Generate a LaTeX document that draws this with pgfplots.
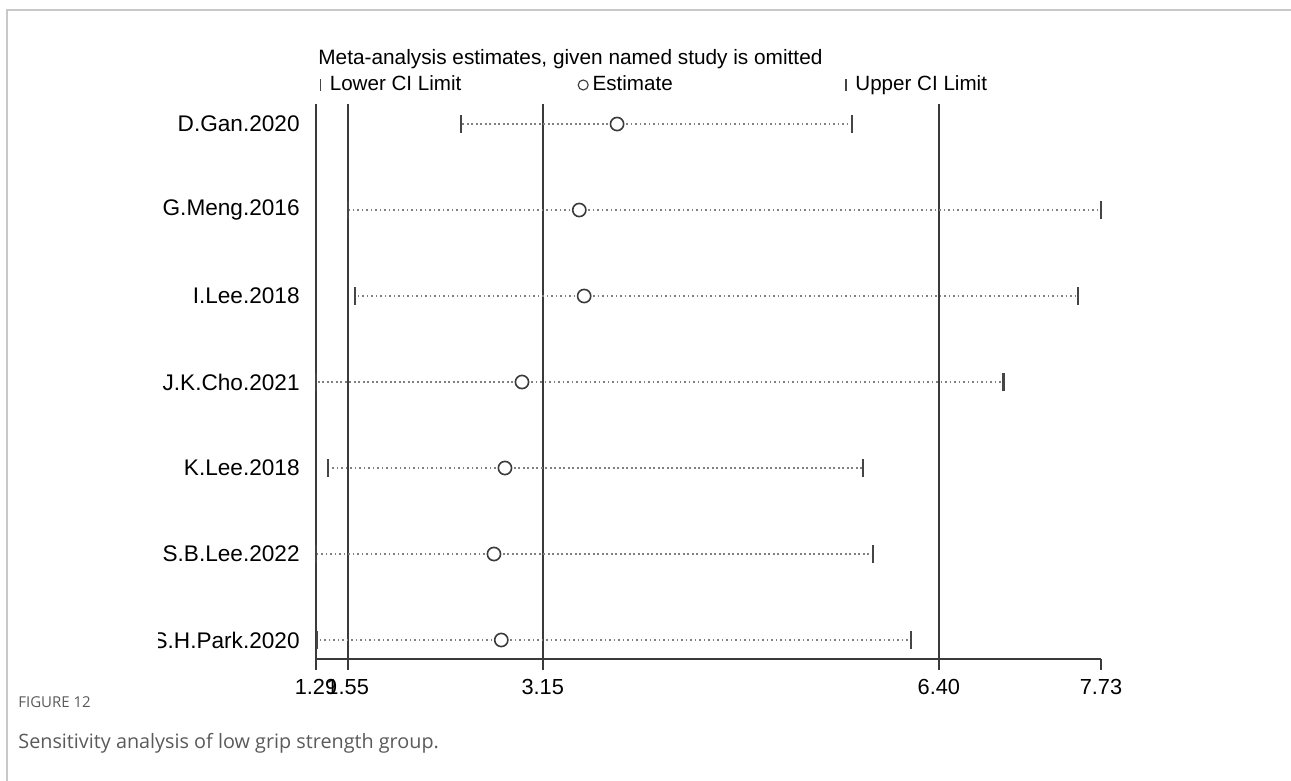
\documentclass[border=0pt]{standalone}
\usepackage{fontspec}
\setmainfont{Liberation Sans}
\newfontfamily\capfont{Open Sans}
\usepackage{pgfplots}
\pgfplotsset{compat=1.18}
\usepackage{pgfplotstable}

\definecolor{linegray}{HTML}{3A3A3A}
\definecolor{capgray}{HTML}{454545}
\definecolor{dotgray}{HTML}{808080}
\definecolor{framegray}{HTML}{C8C8C8}
\definecolor{captext}{HTML}{5A5A5A}

% Pooled estimate with 95% CI when the named study is left out
\pgfplotstableread{
y lo est hi
7 2.48 3.76 5.69
6 1.55 3.45 7.73
5 1.61 3.49 7.54
4 1.29 2.98 6.93
3 1.39 2.84 5.78
2 1.29 2.75 5.86
1 1.30 2.81 6.17
}\sens

\begin{document}
\begin{tikzpicture}
\useasboundingbox (0,0) rectangle (645.5pt,390.5pt);
\draw[framegray, line width=1pt] (3.5pt,0) -- (3.5pt,385.5pt) -- (645.5pt,385.5pt);

\node[anchor=base west, inner sep=0pt, font=\fontsize{10.4}{12}\selectfont]
  at (159pt,358.3pt) {Meta-analysis estimates, given named study is omitted};

\begin{axis}[
  at={(158pt,61pt)}, anchor=south west,
  scale only axis, width=392.5pt, height=277.5pt,
  xmin=1.29, xmax=7.73, ymin=0.779, ymax=7.233,
  axis x line*=bottom, axis y line*=left,
  axis line style={linegray, line width=0.85pt},
  xtick={1.29,1.55,3.15,6.40,7.73},
  xticklabels={1.29,1.55,3.15,6.40,7.73},
  tick align=outside, major tick length=5.5pt,
  xtick style={linegray, line width=0.85pt},
  ytick={1,2,3,4,5,6,7},
  yticklabels={S.H.Park.2020,S.B.Lee.2022,K.Lee.2018,J.K.Cho.2021,I.Lee.2018,G.Meng.2016,D.Gan.2020},
  ytick style={draw=none},
  xticklabel style={font=\fontsize{10.9}{12}\selectfont, inner sep=0pt, yshift=-4.5pt},
  yticklabel style={font=\fontsize{11.3}{13}\selectfont, inner sep=0pt, xshift=-2.5pt},
  clip=false,
  legend columns=3,
  legend style={at={(0,1)}, anchor=west, xshift=-1pt, yshift=9.5pt,
    draw=none, fill=none, inner sep=0pt, outer sep=0pt,
    font=\fontsize{10.3}{12}\selectfont,
    nodes={inner sep=0pt, anchor=west},
    /tikz/every odd column/.append style={column sep=1.5pt}},
]
% reference lines at the pooled lower limit, estimate and upper limit
\draw[linegray, line width=0.9pt] ({axis cs:1.55,0}|-{rel axis cs:0,0}) -- ({axis cs:1.55,0}|-{rel axis cs:0,1});
\draw[linegray, line width=0.9pt] ({axis cs:3.15,0}|-{rel axis cs:0,0}) -- ({axis cs:3.15,0}|-{rel axis cs:0,1});
\draw[linegray, line width=0.9pt] ({axis cs:6.40,0}|-{rel axis cs:0,0}) -- ({axis cs:6.40,0}|-{rel axis cs:0,1});

% dotted interval lines
\addplot[draw=none, mark=none, forget plot,
  error bars/.cd, x dir=both, x explicit, error mark=none,
  error bar style={draw=dotgray, line width=0.85pt, dash pattern=on 0.8pt off 1.45pt}]
  table[x=est, y=y,
    x error plus expr=\thisrow{hi}-\thisrow{est},
    x error minus expr=\thisrow{est}-\thisrow{lo}] {\sens};

\addplot[only marks, mark=|, mark size=4.5pt, mark options={capgray, line width=1.1pt},
  legend image code/.code={\path (-3pt,0pt) (3pt,0pt);
    \draw[capgray, line width=0.6pt] (0pt,-3pt) -- (0pt,3pt);}]
  table[x=lo, y=y] {\sens};
\addlegendentry{\makebox[123.5pt][l]{Lower CI Limit}}

\addplot[only marks, mark=*, mark size=3.3pt, mark options={draw=linegray, fill=white, line width=0.8pt},
  legend image code/.code={\path (-3pt,0pt) (3pt,0pt);
    \draw[linegray, line width=0.55pt] (0pt,0pt) circle (2.5pt);}]
  table[x=est, y=y] {\sens};
\addlegendentry{\makebox[123.5pt][l]{Estimate}}

\addplot[only marks, mark=|, mark size=4.5pt, mark options={capgray, line width=1.1pt},
  legend image code/.code={\path (-3pt,0pt) (3pt,0pt);
    \draw[capgray, line width=0.6pt] (0pt,-3pt) -- (0pt,3pt);}]
  table[x=hi, y=y] {\sens};
\addlegendentry{\makebox[123.5pt][l]{Upper CI Limit}}
\end{axis}

% the leftmost label is cut at the plot region's edge
\fill[white] (60pt,63pt) rectangle (79pt,78pt);

\node[anchor=base west, inner sep=0pt, text=captext, font=\capfont\fontsize{7.5}{9}\selectfont]
  at (9pt,36.75pt) {FIGURE 12};
\node[anchor=base west, inner sep=0pt, text=captext, font=\capfont\fontsize{9.9}{11}\selectfont]
  at (9pt,16pt) {Sensitivity analysis of low grip strength group.};
\end{tikzpicture}
\end{document}
